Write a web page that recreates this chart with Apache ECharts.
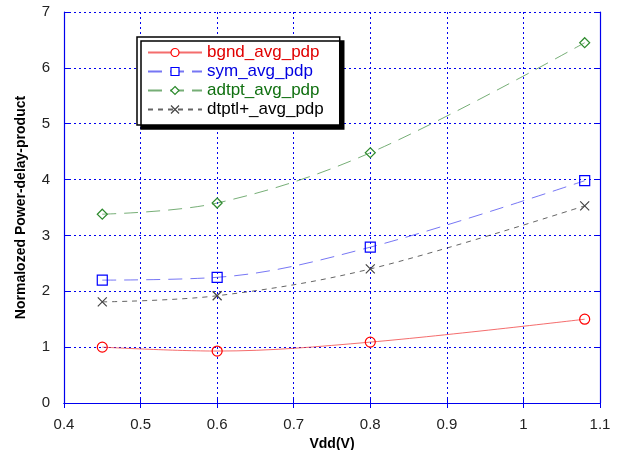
<!DOCTYPE html>
<html><head><meta charset="utf-8">
<script src="https://cdn.jsdelivr.net/npm/echarts@6/dist/echarts.min.js"></script>
<style>html,body{margin:0;padding:0;background:#fff}#c{width:624px;height:450px}</style>
</head><body><div id="c"></div>
<script>
var vdd = [0.45, 0.6, 0.8, 1.08];
var bgnd = [1.0, 0.93, 1.09, 1.5];
var sym = [2.2, 2.25, 2.79, 3.98];
var adtpt = [3.38, 3.58, 4.48, 6.45];
var dtptl = [1.81, 1.92, 2.4, 3.53];
var names = ['bgnd_avg_pdp', 'sym_avg_pdp', 'adtpt_avg_pdp', 'dtptl+_avg_pdp'];
var xTicks = [0.4, 0.5, 0.6, 0.7, 0.8, 0.9, 1, 1.1];
var yTicks = [0, 1, 2, 3, 4, 5, 6, 7];

function pairs(ys){ return vdd.map(function(x,i){ return [x, ys[i]]; }); }
var FONT = 'Liberation Sans, Arial, sans-serif';
var blue = '#0000ee';
var chart = echarts.init(document.getElementById('c'), null, {renderer:'canvas'});
function mk(name, data, color, lineColor, dash, symbol, size){
  return {
    name: name, type: 'line', data: pairs(data), smooth: 0.35,
    symbol: symbol, symbolSize: size, showSymbol: true,
    lineStyle: {color: lineColor, width: 1, type: dash},
    itemStyle: {color: 'none', borderColor: color, borderWidth: 1.2},
    emphasis: {disabled: true}, animation: false, z: 3
  };
}
var xAxisBase = {
  type: 'value', min: xTicks[0], max: xTicks[xTicks.length-1], interval: 0.1,
  axisLine: {show: true, lineStyle: {color: blue, width: 1.2}},
  axisTick: {show: true, inside: true, length: 5, lineStyle: {color: blue}}
};
var yAxisBase = {
  type: 'value', min: yTicks[0], max: yTicks[yTicks.length-1], interval: 1,
  axisLine: {show: true, lineStyle: {color: blue, width: 1.2}},
  axisTick: {show: true, inside: true, length: 5, lineStyle: {color: blue}}
};
var legendIcon = {color: '#fff', borderWidth: 1.2};
var option = {
  backgroundColor: '#fff',
  animation: false,
  grid: {left: 64, right: 24, top: 12, bottom: 47, containLabel: false, outerBoundsMode: 'none'},
  legend: {
    left: 137, top: 37, orient: 'vertical',
    itemWidth: 54, itemHeight: 10, itemGap: 2,
    padding: [7, 16, 7, 10],
    backgroundColor: '#fff', borderColor: '#000', borderWidth: 1.5,
    shadowColor: '#000', shadowBlur: 0, shadowOffsetX: 4, shadowOffsetY: 4,
    textStyle: {fontFamily: FONT, fontSize: 17},
    data: [
      {name: names[0], textStyle: {color: '#e00000'}, itemStyle: legendIcon},
      {name: names[1], textStyle: {color: '#0000e0'}, itemStyle: legendIcon},
      {name: names[2], textStyle: {color: '#107010'}, itemStyle: legendIcon},
      {name: names[3], textStyle: {color: '#000'}, itemStyle: legendIcon}
    ]
  },
  xAxis: [
    Object.assign({}, xAxisBase, {
      position: 'bottom',
      name: 'Vdd(V)', nameLocation: 'middle', nameGap: 32,
      nameTextStyle: {fontFamily: FONT, fontSize: 14, fontWeight: 'bold', color: '#000'},
      axisLabel: {fontFamily: FONT, fontSize: 15, color: '#222', margin: 14,
        formatter: function(v){ return String(Math.round(v*10)/10); }},
      splitLine: {show: true, lineStyle: {color: blue, type: [2, 3], width: 1}}
    }),
    Object.assign({}, xAxisBase, {position: 'top', axisLabel: {show: false}, splitLine: {show: false}})
  ],
  yAxis: [
    Object.assign({}, yAxisBase, {
      position: 'left',
      name: 'Normalozed Power-delay-product', nameLocation: 'middle', nameGap: 36, nameRotate: 90,
      nameTextStyle: {fontFamily: FONT, fontSize: 14, fontWeight: 'bold', color: '#000'},
      axisLabel: {fontFamily: FONT, fontSize: 15, color: '#222', margin: 14},
      splitLine: {show: true, lineStyle: {color: blue, type: [2, 3], width: 1}}
    }),
    Object.assign({}, yAxisBase, {position: 'right', axisLabel: {show: false}, splitLine: {show: false}})
  ],
  series: [
    mk(names[0], bgnd, '#ff0000', 'rgba(240,60,60,0.75)', 'solid', 'circle', 10),
    mk(names[1], sym, '#0000ff', 'rgba(60,60,240,0.7)', [14, 8], 'rect', 10),
    mk(names[2], adtpt, '#2e8b2e', 'rgba(60,140,60,0.7)', [14, 8], 'diamond', 10),
    mk(names[3], dtptl, '#444444', 'rgba(50,50,50,0.75)', [5, 5], 'path://M0,0L10,10M10,0L0,10', 9)
  ]
};
chart.setOption(option);
</script>
</body></html>
